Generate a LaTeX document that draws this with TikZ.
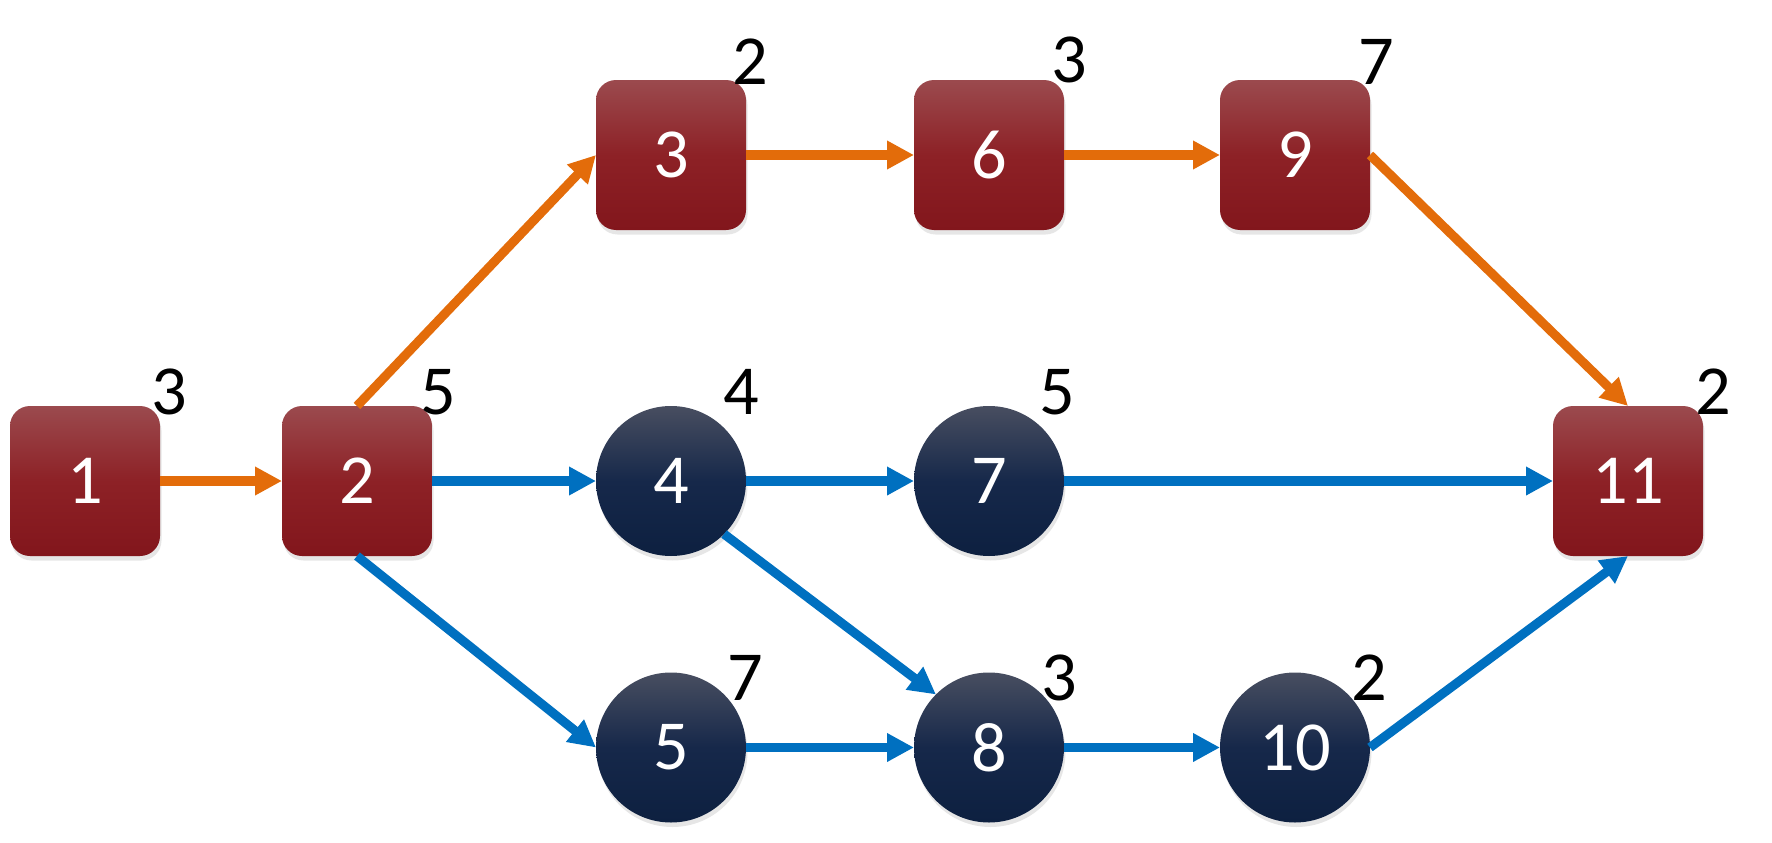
\documentclass[tikz,border=0pt]{standalone}
\usepackage{fontspec}
\setmainfont{Carlito}
\usetikzlibrary{arrows.meta, shadows}
\definecolor{boxtop}{RGB}{155,74,78}
\definecolor{boxmid}{RGB}{141,33,38}
\definecolor{boxbot}{RGB}{130,22,28}
\definecolor{dottop}{RGB}{72,78,96}
\definecolor{dotmid}{RGB}{22,40,74}
\definecolor{dotbot}{RGB}{13,32,64}
\definecolor{pathorange}{RGB}{227,108,10}
\definecolor{pathblue}{RGB}{0,112,192}

\begin{document}
\begin{tikzpicture}[>={Triangle[length=2.7mm,width=2.7mm]},
    task/.style={inner sep=0pt, outer sep=0pt, minimum size=1.5cm, text=white,
        font=\fontsize{20}{24}\selectfont,
        drop shadow={opacity=0.2, shadow xshift=0.015cm, shadow yshift=-0.045cm}},
    redbox/.style={task, rectangle, rounded corners=2mm,
        top color=boxtop, bottom color=boxbot, middle color=boxmid},
    navydot/.style={task, circle,
        top color=dottop, bottom color=dotbot, middle color=dotmid},
    weight/.style={inner sep=0pt, font=\fontsize{20}{24}\selectfont},
    orangearrow/.style={->, line width=2.6pt, draw=pathorange},
    bluearrow/.style={->, line width=2.6pt, draw=pathblue}]
    \useasboundingbox (0,0) rectangle (17.72,8.42);
% tasks
    \node[redbox] (n1) at (0.85,3.61) {1};
    \node[redbox] (n2) at (3.57,3.61) {2};
    \node[redbox] (n3) at (6.71,6.87) {3};
    \node[navydot] (n4) at (6.71,3.61) {4};
    \node[navydot] (n5) at (6.71,0.945) {5};
    \node[redbox] (n6) at (9.89,6.87) {6};
    \node[navydot] (n7) at (9.89,3.61) {7};
    \node[navydot] (n8) at (9.89,0.945) {8};
    \node[redbox] (n9) at (12.95,6.87) {9};
    \node[navydot] (n10) at (12.95,0.945) {10};
    \node[redbox] (n11) at (16.28,3.61) {11};
% durations
    \node[weight] (w1) at (1.69,4.50) {3};
    \node[weight] (w2) at (4.38,4.50) {5};
    \node[weight] (w3) at (7.50,7.80) {2};
    \node[weight] (w4) at (7.41,4.50) {4};
    \node[weight] (w5) at (7.45,1.64) {7};
    \node[weight] (w6) at (10.69,7.82) {3};
    \node[weight] (w7) at (10.57,4.50) {5};
    \node[weight] (w8) at (10.59,1.64) {3};
    \node[weight] (w9) at (13.76,7.80) {7};
    \node[weight] (w10) at (13.69,1.64) {2};
    \node[weight] (w11) at (17.13,4.50) {2};
% critical path
    \draw[orangearrow] (n1.east)--(n2.west);
    \draw[orangearrow] (n2.north)--(n3.west);
    \draw[orangearrow] (n3.east)--(n6.west);
    \draw[orangearrow] (n6.east)--(n9.west);
    \draw[orangearrow] (n9.east)--(n11.north);
% other links
    \draw[bluearrow] (n2.east)--(n4.west);
    \draw[bluearrow] (n2.south)--(n5.west);
    \draw[bluearrow] (n4.east)--(n7.west);
    \draw[bluearrow] (n4.south east)--(n8.north west);
    \draw[bluearrow] (n7.east)--(n11.west);
    \draw[bluearrow] (n5.east)--(n8.west);
    \draw[bluearrow] (n8.east)--(n10.west);
    \draw[bluearrow] (n10.east)--(n11.south);
\end{tikzpicture}
\end{document}
